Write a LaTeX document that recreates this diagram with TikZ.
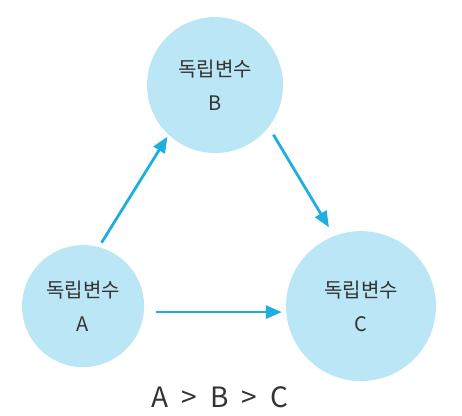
\documentclass[tikz,border=0pt]{standalone}
\usepackage{fontspec}
\setmainfont{Noto Sans CJK KR}
\usepackage{xcolor}
\usepackage{tikz}
\usetikzlibrary{arrows.meta}
\definecolor{ink}{HTML}{333333}
\definecolor{bubble}{HTML}{BAE6F5}
\definecolor{linkblue}{HTML}{1EAEDF}
\tikzset{
  varnode/.style={
    circle,
    fill=bubble,
    draw=none,
    text=ink,
    align=center,
    inner sep=0pt,
    font=\fontsize{20}{34}\selectfont
  },
  linkarrow/.style={-{Triangle[length=16pt,width=13pt]}, line width=2.8pt, draw=linkblue},
  caption/.style={font=\fontsize{28}{32}\selectfont, text=ink}
}

\begin{document}
\begin{tikzpicture}
  \useasboundingbox (0,0) rectangle (16.24,-14.62);

  \node[varnode, minimum size=4.78cm] (varB) at (7.56,-2.99) {독립변수\\B};
  \node[varnode, minimum size=4.29cm] (varA) at (2.92,-10.76) {독립변수\\A};
  \node[varnode, minimum size=5.27cm] (varC) at (12.69,-10.76) {독립변수\\C};

  \draw[linkarrow, shorten <=5pt, shorten >=2pt] (varA.75) -- (varB.227);
  \draw[linkarrow, shorten <=9pt, shorten >=10pt] (varB.-38) -- (varC.111);
  \draw[linkarrow, shorten <=12pt, shorten >=4pt]
    ([yshift=-6pt]varA.east) -- ([yshift=-6pt]varC.west);

  \node[caption] (order) at (7.73,-13.95)
    {A\hspace{13pt}>\hspace{13pt}B\hspace{13pt}>\hspace{13pt}C};
\end{tikzpicture}
\end{document}
